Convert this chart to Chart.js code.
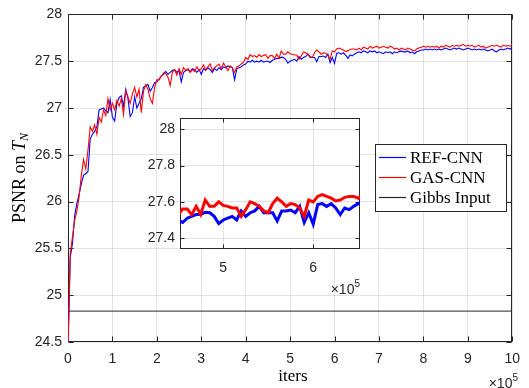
<!DOCTYPE html>
<html>
<head>
<meta charset="utf-8">
<script src="https://cdn.jsdelivr.net/npm/chart.js@4.4.0/dist/chart.umd.min.js"></script>
<style>
  html, body { margin: 0; padding: 0; background: #fff; }
  #wrap { position: relative; width: 529px; height: 388px; }
  #main { position: absolute; left: 0; top: 0; }
  #inset { position: absolute; left: 140px; top: 105px; }
</style>
</head>
<body>
<div id="wrap">
  <canvas id="main" width="529" height="388"></canvas>
  <canvas id="inset" width="230" height="195"></canvas>
</div>
<script>
// sample spacing of the logged PSNR, in units of 1e5 iterations
const STEP = 0.05;

const refCnn = [
  24.4, 25.4, 25.55, 25.85, 25.98, 26.08, 26.19, 26.28, 26.3, 26.32,
  26.67, 26.72, 26.75, 26.8, 26.98, 26.99, 27.0, 26.97, 26.95, 27.09,
  26.9, 26.86, 27.05, 27.11, 27.13, 27.02, 27.2, 27.1, 26.91, 26.95,
  27.12, 27.0, 27.05, 27.1, 27.22, 27.24, 27.25, 27.18, 27.22, 27.27,
  27.28, 27.31, 27.34, 27.37, 27.39, 27.36, 27.38, 27.4, 27.41, 27.38,
  27.4, 27.28, 27.38, 27.4, 27.41, 27.39, 27.42, 27.41, 27.38, 27.41,
  27.36, 27.42, 27.4, 27.43, 27.41, 27.38, 27.42, 27.4, 27.43, 27.41,
  27.44, 27.43, 27.45, 27.44, 27.43, 27.3, 27.42, 27.43, 27.44, 27.46,
  27.47, 27.5, 27.49, 27.51, 27.49, 27.5, 27.49, 27.51, 27.49, 27.5,
  27.5,
  27.486, 27.51, 27.52, 27.53, 27.53, 27.543, 27.54, 27.52, 27.48, 27.5,
  27.51, 27.52, 27.5, 27.55, 27.52, 27.54, 27.55, 27.575, 27.54, 27.54,
  27.54, 27.495, 27.55, 27.55, 27.555, 27.54, 27.575, 27.486, 27.54, 27.477,
  27.585, 27.59, 27.575, 27.59, 27.566, 27.53, 27.566, 27.557, 27.575, 27.59,
  27.6, 27.59, 27.61, 27.6, 27.59, 27.61, 27.6, 27.61, 27.59, 27.6,
  27.59, 27.58, 27.6, 27.59, 27.6, 27.58, 27.6, 27.59, 27.6, 27.61,
  27.6, 27.6, 27.61, 27.59, 27.6, 27.58, 27.6, 27.61, 27.62, 27.62,
  27.63, 27.62, 27.63, 27.62, 27.63, 27.62, 27.63, 27.62, 27.63, 27.64,
  27.63, 27.62, 27.63, 27.64, 27.63, 27.64, 27.63, 27.62, 27.63, 27.64,
  27.63, 27.62, 27.63, 27.62, 27.63, 27.62, 27.63, 27.62, 27.61, 27.62,
  27.63, 27.61, 27.6, 27.62, 27.63, 27.62, 27.63, 27.64, 27.63, 27.64
];

const gasCnn = [
  24.4, 25.45, 25.62, 25.8, 25.9, 26.05, 26.28, 26.45, 26.35, 26.55,
  26.8, 26.75, 26.82, 26.72, 26.9, 26.85, 26.98, 26.92, 27.1, 26.98,
  27.05, 26.98, 27.08, 27.02, 27.1, 26.93, 27.18, 27.12, 27.05, 27.15,
  27.22, 27.12, 27.2, 26.95, 27.18, 27.25, 27.2, 27.1, 27.05, 27.22,
  27.3, 27.3, 27.34, 27.36, 27.37, 27.33, 27.24, 27.38, 27.41, 27.35,
  27.42, 27.36, 27.43, 27.4, 27.42, 27.38, 27.41, 27.39, 27.44, 27.4,
  27.42, 27.46, 27.41, 27.44, 27.47, 27.4, 27.43, 27.45, 27.47, 27.42,
  27.48, 27.44, 27.4, 27.45, 27.43, 27.38, 27.44, 27.45, 27.47, 27.49,
  27.54, 27.52, 27.57, 27.55, 27.56, 27.54, 27.57, 27.55, 27.56, 27.57,
  27.53,
  27.56, 27.56, 27.53, 27.575, 27.53, 27.61, 27.575, 27.575, 27.6, 27.58,
  27.575, 27.566, 27.566, 27.52, 27.557, 27.6, 27.59, 27.575, 27.55, 27.54,
  27.59, 27.62, 27.6, 27.575, 27.59, 27.585, 27.566, 27.52, 27.61, 27.6,
  27.63, 27.64, 27.63, 27.62, 27.605, 27.61, 27.625, 27.63, 27.63, 27.62,
  27.64, 27.62, 27.65, 27.64, 27.63, 27.66, 27.64, 27.65, 27.66, 27.64,
  27.65, 27.66, 27.65, 27.64, 27.66, 27.65, 27.63, 27.64, 27.62, 27.64,
  27.63, 27.62, 27.64, 27.63, 27.62, 27.61, 27.63, 27.64, 27.65, 27.66,
  27.65, 27.66, 27.65, 27.66, 27.65, 27.66, 27.64, 27.66, 27.65, 27.67,
  27.66, 27.65, 27.67, 27.66, 27.67, 27.66, 27.67, 27.68, 27.66, 27.67,
  27.66, 27.67, 27.65, 27.66, 27.67, 27.65, 27.66, 27.64, 27.65, 27.66,
  27.67, 27.66, 27.67, 27.66, 27.65, 27.67, 27.66, 27.67, 27.66, 27.67
];

const gibbsIters = [0, 10];
const gibbsInput = [24.83, 24.83];

const seriesNames = ['REF-CNN', 'GAS-CNN', 'Gibbs Input'];

const mainXTicks = [0, 1, 2, 3, 4, 5, 6, 7, 8, 9, 10];
const mainYTicks = [24.5, 25, 25.5, 26, 26.5, 27, 27.5, 28];
const insetXTicks = [5, 6];
const insetYTicks = [27.4, 27.6, 27.8, 28];

const AXIS = '#262626';
const GRID = 'rgba(38,38,38,0.13)';
const SANS = "'Liberation Sans', Arial, sans-serif";
const SERIF = "'Liberation Serif', 'Times New Roman', serif";

const toPts = arr => arr.map((v, i) => ({ x: i * STEP, y: v }));
const fixTicks = list => s => { s.ticks = list.map(value => ({ value })); };
const fmt = v => String(+Number(v).toFixed(2));

// MATLAB style box with inward ticks on all four sides
function drawFrame(chart, len) {
  const { ctx, chartArea: a, scales: { x, y } } = chart;
  const L = Math.round(a.left) + 0.5, R = Math.round(a.right) - 0.5;
  const T = Math.round(a.top) + 0.5, B = Math.round(a.bottom) - 0.5;
  ctx.save();
  ctx.strokeStyle = AXIS;
  ctx.lineWidth = 1;
  ctx.beginPath();
  x.ticks.forEach(t => {
    const p = Math.round(x.getPixelForValue(t.value)) + 0.5;
    ctx.moveTo(p, B); ctx.lineTo(p, B - len);
    ctx.moveTo(p, T); ctx.lineTo(p, T + len);
  });
  y.ticks.forEach(t => {
    const p = Math.round(y.getPixelForValue(t.value)) + 0.5;
    ctx.moveTo(L, p); ctx.lineTo(L + len, p);
    ctx.moveTo(R, p); ctx.lineTo(R - len, p);
  });
  ctx.stroke();
  ctx.strokeRect(L, T, R - L, B - T);
  ctx.restore();
}

function drawExponent(ctx, right, cy) {
  ctx.save();
  ctx.fillStyle = AXIS;
  ctx.textBaseline = 'middle';
  ctx.font = '10px ' + SANS;
  const w5 = ctx.measureText('5').width;
  ctx.font = '14px ' + SANS;
  const w10 = ctx.measureText('\u00d710').width;
  ctx.textAlign = 'left';
  ctx.fillText('\u00d710', right - w5 - w10, cy);
  ctx.font = '10px ' + SANS;
  ctx.fillText('5', right - w5, cy - 6);
  ctx.restore();
}

const mainDecor = {
  id: 'mainDecor',
  beforeDatasetsDraw(chart) { drawFrame(chart, 5); },
  afterDraw(chart) {
    const ctx = chart.ctx;
    // y title: PSNR on T_N
    ctx.save();
    ctx.fillStyle = '#000';
    ctx.translate(20, 178);
    ctx.rotate(-Math.PI / 2);
    ctx.textBaseline = 'middle';
    const f1 = '18px ' + SERIF, f2 = 'italic 18px ' + SERIF, f3 = 'italic 12px ' + SERIF;
    ctx.font = f1; const w1 = ctx.measureText('PSNR on ').width;
    ctx.font = f2; const w2 = ctx.measureText('T').width;
    ctx.font = f3; const w3 = ctx.measureText('N').width;
    let s = -(w1 + w2 + w3) / 2;
    ctx.font = f1; ctx.fillText('PSNR on ', s, 0);
    ctx.font = f2; ctx.fillText('T', s + w1, 0);
    ctx.font = f3; ctx.fillText('N', s + w1 + w2, 5);
    ctx.restore();

    // x title
    ctx.save();
    ctx.fillStyle = '#000';
    ctx.font = '17px ' + SERIF;
    ctx.textAlign = 'center';
    ctx.textBaseline = 'middle';
    ctx.fillText('iters', 293, 377);
    ctx.restore();

    drawExponent(ctx, 518, 384);

    // legend box
    ctx.save();
    ctx.fillStyle = '#fff';
    ctx.fillRect(375, 144, 131, 67);
    ctx.strokeStyle = AXIS;
    ctx.lineWidth = 1;
    ctx.strokeRect(375.5, 144.5, 131, 67);
    const cols = ['#0000ff', '#ff0000', AXIS];
    const rows = [157.5, 177.5, 197.5];
    ctx.font = '17px ' + SERIF;
    ctx.textBaseline = 'middle';
    seriesNames.forEach((n, i) => {
      ctx.strokeStyle = cols[i];
      ctx.lineWidth = 1.2;
      ctx.beginPath();
      ctx.moveTo(379, rows[i]); ctx.lineTo(406, rows[i]);
      ctx.stroke();
      ctx.fillStyle = '#000';
      ctx.fillText(n, 410, rows[i] + 1);
    });
    ctx.restore();
  }
};

const insetDecor = {
  id: 'insetDecor',
  beforeDraw(chart) {
    const { ctx, chartArea: a } = chart;
    ctx.save();
    ctx.fillStyle = '#fff';
    ctx.fillRect(a.left, a.top, a.right - a.left, a.bottom - a.top);
    ctx.restore();
  },
  beforeDatasetsDraw(chart) { drawFrame(chart, 4); },
  afterDraw(chart) { drawExponent(chart.ctx, 220, 185); }
};

const tickFont = { family: SANS, size: 14 };

new Chart(document.getElementById('main'), {
  type: 'line',
  data: {
    datasets: [
      { label: seriesNames[0], data: toPts(refCnn), borderColor: '#0000ff', borderWidth: 1.1, pointRadius: 0, order: 1 },
      { label: seriesNames[1], data: toPts(gasCnn), borderColor: '#ff0000', borderWidth: 1.1, pointRadius: 0, order: 0 },
      { label: seriesNames[2], data: gibbsIters.map((x, i) => ({ x, y: gibbsInput[i] })), borderColor: AXIS, borderWidth: 1, pointRadius: 0, order: 2 }
    ]
  },
  options: {
    responsive: false,
    animation: false,
    devicePixelRatio: 1,
    layout: { padding: { top: 13, right: 11, left: 0, bottom: 0 } },
    plugins: { legend: { display: false }, tooltip: { enabled: false } },
    scales: {
      x: {
        type: 'linear', min: 0, max: 10,
        border: { display: false },
        grid: { color: GRID, drawTicks: false },
        ticks: { color: AXIS, font: tickFont, padding: 9, maxRotation: 0, callback: fmt },
        afterBuildTicks: fixTicks(mainXTicks),
        afterFit: s => { s.height = 46; }
      },
      y: {
        min: 24.5, max: 28,
        border: { display: false },
        grid: { color: GRID, drawTicks: false },
        ticks: { color: AXIS, font: tickFont, padding: 6, callback: fmt },
        afterBuildTicks: fixTicks(mainYTicks),
        afterFit: s => { s.width = 68; }
      }
    }
  },
  plugins: [mainDecor]
});

new Chart(document.getElementById('inset'), {
  type: 'line',
  data: {
    datasets: [
      { label: seriesNames[0], data: toPts(refCnn), borderColor: '#0000ff', borderWidth: 3, pointRadius: 0, order: 1, clip: 0 },
      { label: seriesNames[1], data: toPts(gasCnn), borderColor: '#ff0000', borderWidth: 3, pointRadius: 0, order: 0, clip: 0 }
    ]
  },
  options: {
    responsive: false,
    animation: false,
    devicePixelRatio: 1,
    layout: { padding: { top: 10, right: 10, left: 0, bottom: 0 } },
    plugins: { legend: { display: false }, tooltip: { enabled: false } },
    scales: {
      x: {
        type: 'linear', min: 4.52, max: 6.52,
        border: { display: false },
        grid: { color: GRID, drawTicks: false },
        ticks: { color: AXIS, font: tickFont, padding: 11, maxRotation: 0, callback: fmt },
        afterBuildTicks: fixTicks(insetXTicks),
        afterFit: s => { s.height = 51; }
      },
      y: {
        min: 27.34, max: 28.06,
        border: { display: false },
        grid: { color: GRID, drawTicks: false },
        ticks: { color: AXIS, font: tickFont, padding: 5, callback: fmt },
        afterBuildTicks: fixTicks(insetYTicks),
        afterFit: s => { s.width = 40; }
      }
    }
  },
  plugins: [insetDecor]
});
</script>
</body>
</html>
